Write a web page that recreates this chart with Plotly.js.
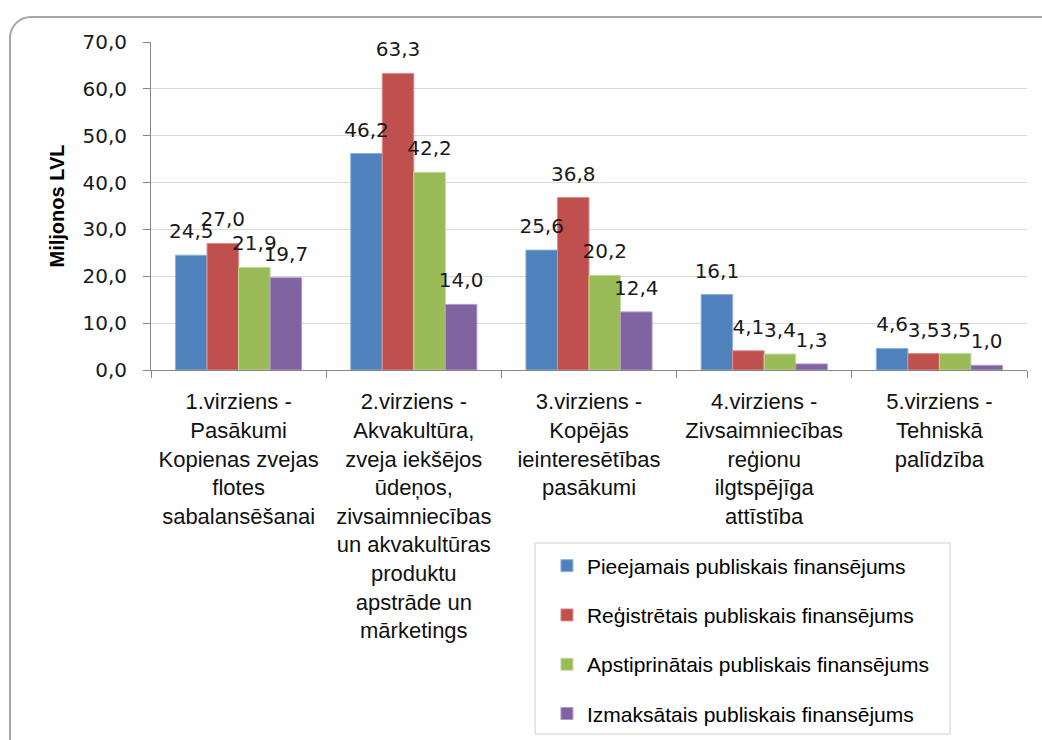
<!DOCTYPE html>
<html>
<head>
<meta charset="utf-8">
<script src="https://cdn.plot.ly/plotly-3.0.1.min.js"></script>
<style>
html, body { margin: 0; padding: 0; background: #ffffff; overflow: hidden; }
#frame { position: absolute; left: 9px; top: 16px; width: 1060px; height: 800px;
  border: 2px solid #a6a6a6; border-radius: 22px; box-sizing: border-box; }
#chart { position: absolute; left: 0; top: 0; width: 1042px; height: 740px; }
</style>
</head>
<body>
<div id="frame"></div>
<div id="chart"></div>
<script>
const categories = [
  "1.virziens -<br>Pasākumi<br>Kopienas zvejas<br>flotes<br>sabalansēšanai",
  "2.virziens -<br>Akvakultūra,<br>zveja iekšējos<br>ūdeņos,<br>zivsaimniecības<br>un akvakultūras<br>produktu<br>apstrāde un<br>mārketings",
  "3.virziens -<br>Kopējās<br>ieinteresētības<br>pasākumi",
  "4.virziens -<br>Zivsaimniecības<br>reģionu<br>ilgtspējīga<br>attīstība",
  "5.virziens -<br>Tehniskā<br>palīdzība"
];
const seriesNames = [
  "Pieejamais publiskais finansējums",
  "Reģistrētais publiskais finansējums",
  "Apstiprinātais publiskais finansējums",
  "Izmaksātais publiskais finansējums"
];
const pieejamais = [24.5, 46.2, 25.6, 16.1, 4.6];
const registretais = [27.0, 63.3, 36.8, 4.1, 3.5];
const apstiprinatais = [21.9, 42.2, 20.2, 3.4, 3.5];
const izmaksatais = [19.7, 14.0, 12.4, 1.3, 1.0];
const colors = ["#4F81BD", "#C0504D", "#9BBB59", "#8064A2"];
const lineColors = ["#8FB0DA", "#DC8E8B", "#C3D99A", "#AE9CC6"];

const allValues = [pieejamais, registretais, apstiprinatais, izmaksatais];
const barTraces = allValues.map((vals, i) => ({
  type: "bar",
  name: seriesNames[i],
  legendgroup: "g" + i,
  offsetgroup: "s" + i,
  x: categories,
  y: vals,
  marker: { color: colors[i], line: { color: lineColors[i], width: 1 } },
  hoverinfo: "skip"
}));
// value labels, placed by the library's own grouped positioning
const labelTraces = allValues.map((vals, i) => ({
  type: "scatter",
  mode: "markers+text",
  showlegend: false,
  offsetgroup: "s" + i,
  x: categories,
  y: vals,
  text: vals.map(v => v.toFixed(1).replace(".", ",")),
  textposition: "top center",
  textfont: { family: "DejaVu Sans", size: 20, color: "#1a1a1a" },
  marker: { size: 17.6, color: "rgba(0,0,0,0)" },
  cliponaxis: false,
  hoverinfo: "skip"
}));

const layout = {
  width: 1042,
  height: 740,
  paper_bgcolor: "rgba(0,0,0,0)",
  plot_bgcolor: "rgba(0,0,0,0)",
  separators: ", ",
  margin: { l: 151, r: 15, t: 42, b: 370, autoexpand: false },
  barmode: "group",
  bargap: 0.28,
  bargroupgap: 0,
  scattermode: "group",
  scattergap: 0.28,
  showlegend: true,
  legend: {
    x: 0.452, y: -0.535, xanchor: "left", yanchor: "top",
    bgcolor: "rgba(0,0,0,0)", borderwidth: 0,
    font: { family: "Liberation Sans", size: 21, color: "#000000" },
    tracegroupgap: 19,
    traceorder: "grouped"
  },
  shapes: [{
    type: "rect", xref: "paper", yref: "paper",
    x0: 0.4384, x1: 0.9121, y0: -1.1098, y1: -0.5274,
    line: { color: "#d0d0d0", width: 1 }, fillcolor: "#ffffff", layer: "below"
  }],
  xaxis: {
    type: "category",
    showgrid: false,
    showline: true, linecolor: "#868686", linewidth: 1,
    ticks: "outside", tickson: "boundaries", ticklen: 7, tickcolor: "#868686",
    tickfont: { family: "Liberation Sans", size: 22, color: "#111111" },
    ticklabelstandoff: 12,
    fixedrange: true
  },
  yaxis: {
    range: [0, 70], dtick: 10, tickformat: ".1f",
    showgrid: true, gridcolor: "#d9d9d9", gridwidth: 1,
    showline: true, linecolor: "#868686", linewidth: 1,
    ticks: "outside", ticklen: 7, tickcolor: "#868686",
    tickfont: { family: "DejaVu Sans", size: 20, color: "#1a1a1a" },
    ticklabelstandoff: 12,
    zeroline: false,
    title: { text: "<b>Miljonos LVL</b>", standoff: 12,
      font: { family: "Liberation Sans", size: 20, color: "#000000" } },
    fixedrange: true
  }
};

Plotly.newPlot("chart", barTraces.concat(labelTraces), layout, { displayModeBar: false, staticPlot: true });
</script>
</body>
</html>
